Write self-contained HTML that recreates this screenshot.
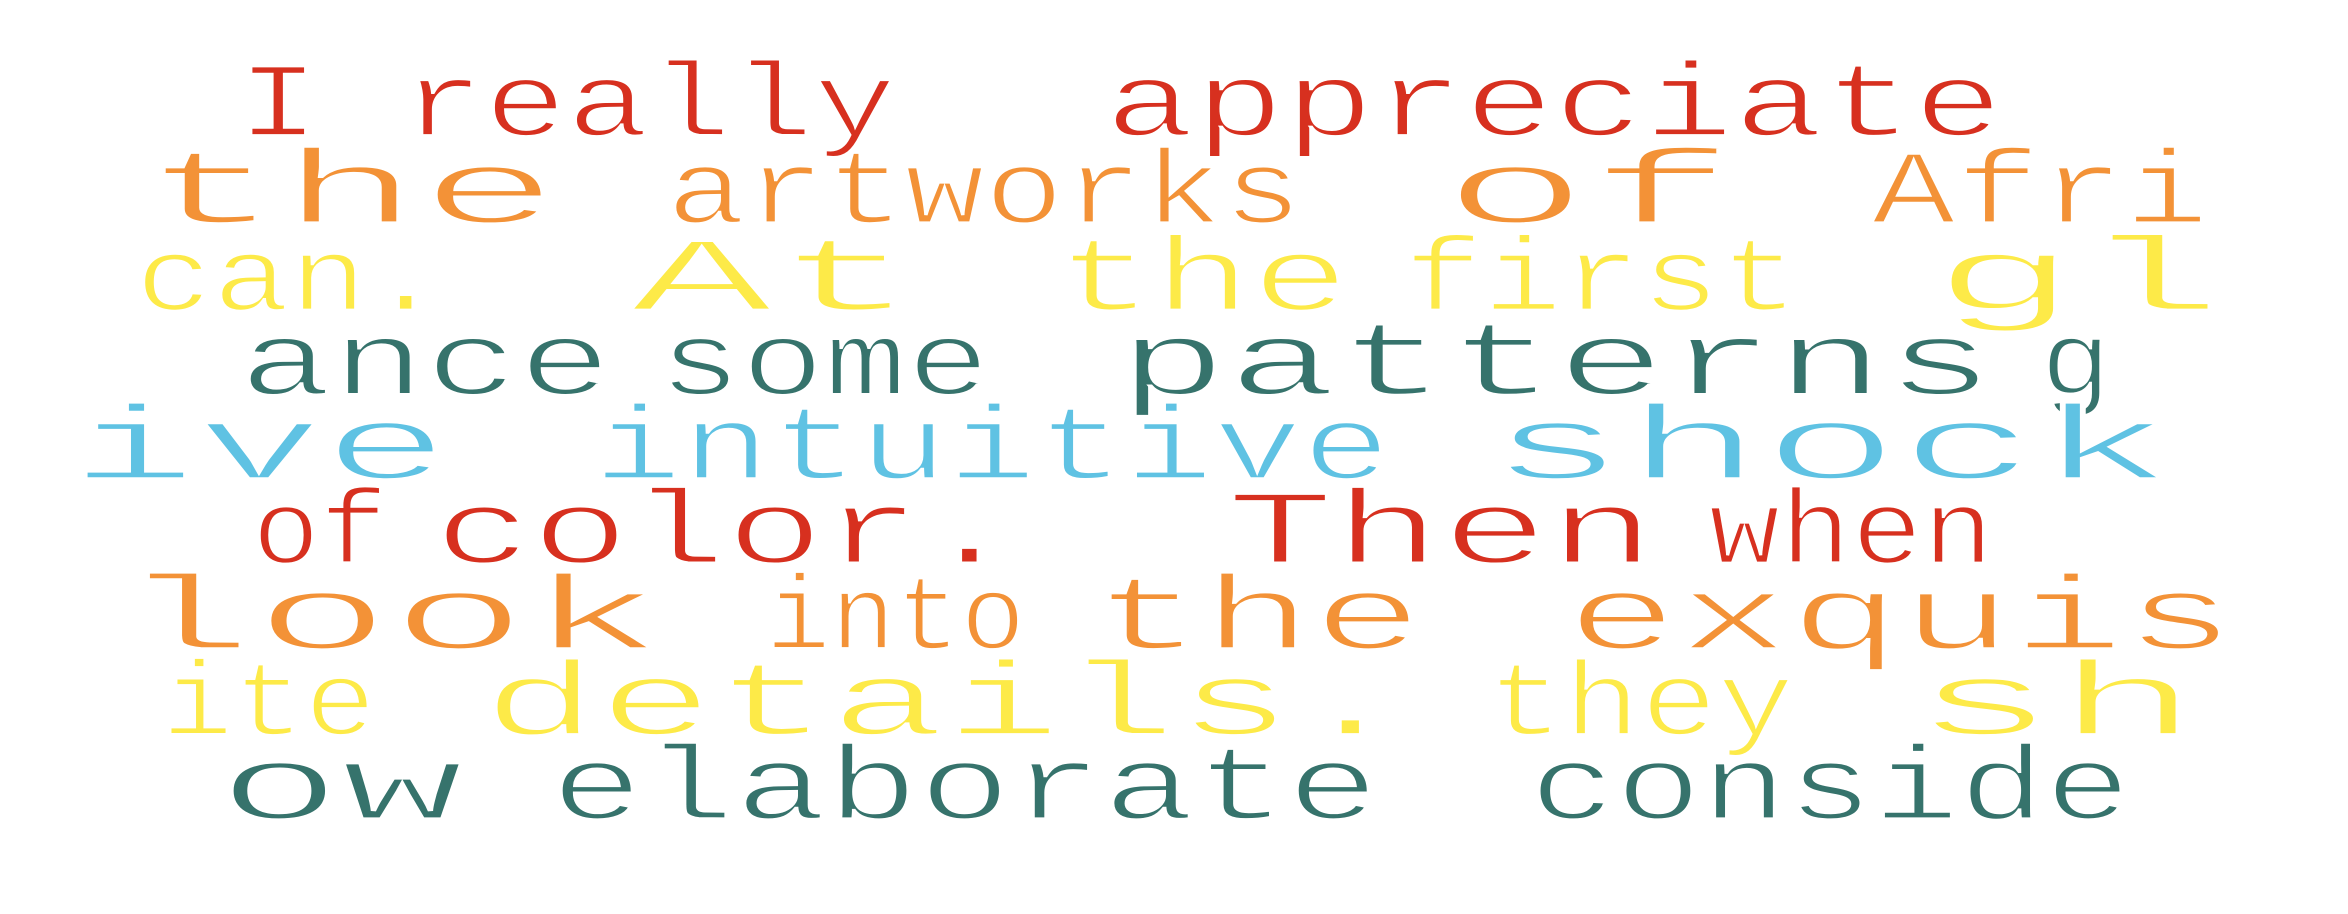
<!DOCTYPE html>
<html><head><meta charset="utf-8"><style>
html,body{margin:0;padding:0;background:#fff;width:2348px;height:914px;overflow:hidden}
svg{display:block}
text{font-family:"Liberation Mono",monospace;font-size:70px;stroke:#fff;stroke-width:1.8px;paint-order:normal}
.r{fill:#d7301f}.o{fill:#f39237}.y{fill:#fdea48}.t{fill:#36736c}.b{fill:#5fc2e3}
</style></head><body>
<svg width="2348" height="914" viewBox="0 0 1560 607.3" xmlns="http://www.w3.org/2000/svg">
<rect width="1560" height="607.3" fill="#fff"/>
<g class="r">
<text x="163" y="90" textLength="427">I really</text>
<text x="740" y="90" textLength="585">appreciate</text>
</g>
<g class="o">
<text x="103" y="148" textLength="259">the</text>
<text x="448" y="148" textLength="412">artworks</text>
<text x="968" y="148" textLength="175">of</text>
<text x="1249" y="148" textLength="213">Afri</text>
</g>
<g class="y">
<text x="95" y="206" textLength="195">can.</text>
<text x="428" y="206" textLength="172">At</text>
<text x="708" y="206" textLength="182">the</text>
<text x="938" y="206" textLength="252">first</text>
<text x="1293" y="206" textLength="175">gl</text>
</g>
<g class="t">
<text x="165" y="262" textLength="235">ance</text>
<text x="443" y="262" textLength="209">some</text>
<text x="750" y="262" textLength="568">patterns</text>
<text x="1360" y="262" textLength="38">g</text>
</g>
<g class="b">
<text x="55" y="318" textLength="235">ive</text>
<text x="400" y="318" textLength="518">intuitive</text>
<text x="998" y="318" textLength="437">shock</text>
</g>
<g class="r">
<text x="172" y="374" textLength="81">of</text>
<text x="295" y="374" textLength="375">color.</text>
<text x="822" y="374" textLength="271">Then</text>
<text x="1140" y="374" textLength="180">when</text>
</g>
<g class="o">
<text x="87" y="431" textLength="345">look</text>
<text x="513" y="431" textLength="164">into</text>
<text x="733" y="431" textLength="205">the</text>
<text x="1048" y="431" textLength="430">exquis</text>
</g>
<g class="y">
<text x="112" y="488" textLength="133">ite</text>
<text x="328" y="488" textLength="600">details.</text>
<text x="993" y="488" textLength="194">they</text>
<text x="1280" y="488" textLength="172">sh</text>
</g>
<g class="t">
<text x="153" y="544" textLength="147">ow</text>
<text x="372" y="544" textLength="538">elaborate</text>
<text x="1022" y="544" textLength="388">conside</text>
</g>
</svg>
<script>
document.querySelectorAll('text').forEach(function(t){
  var x=parseFloat(t.getAttribute('x')),L=parseFloat(t.getAttribute('textLength')),n=t.textContent.length;
  var b=0.1;
  var L2=L/(1-2*b/n);
  t.setAttribute('x',(x-b*L2/n).toFixed(1));
  t.setAttribute('textLength',L2.toFixed(1));
  t.setAttribute('lengthAdjust','spacingAndGlyphs');
});
</script>
</body></html>
